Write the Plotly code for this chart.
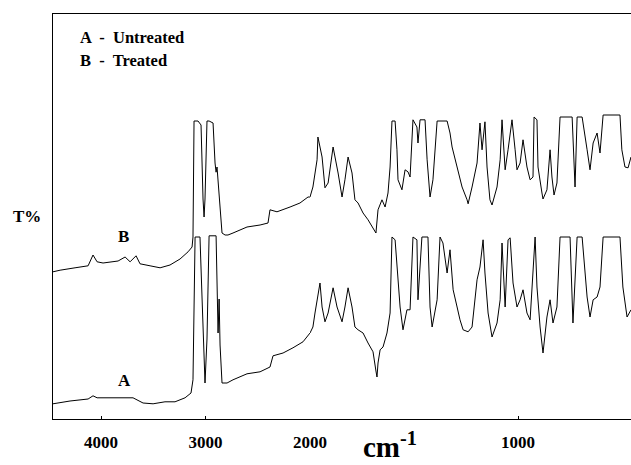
import numpy as np
import plotly.graph_objects as go

# ---- data: wavenumber (cm-1) and transmittance (arbitrary T%) ----
wn_B = [4460, 4392, 4249, 4124, 4077, 4038, 3981, 3914, 3837, 3770, 3722, 3665, 3627, 3531,
        3435, 3340, 3244, 3167, 3148, 3129, 3120, 3110, 3072, 3053, 3043, 3024, 3014, 3005,
        2986, 2966, 2928, 2909, 2899, 2890, 2842, 2813, 2785, 2737, 2603, 2478, 2402, 2383,
        2316, 2191, 2096, 2019, 2000,
        1986, 1966, 1962, 1942, 1928, 1913, 1889, 1865, 1846, 1832, 1817, 1798, 1784, 1769,
        1745, 1721, 1702, 1683, 1673, 1654, 1639, 1625, 1615, 1606, 1591, 1582, 1577, 1558,
        1543, 1529, 1519, 1505, 1486, 1481, 1471, 1447, 1437, 1423, 1409, 1389, 1341, 1327,
        1317, 1293, 1269, 1245, 1240, 1221, 1197, 1183, 1173, 1159, 1149, 1135, 1125, 1101,
        1086, 1077, 1062, 1048, 1029, 1014, 1005, 990, 976, 957, 942, 928, 923, 909, 904,
        885, 880, 861, 846, 837, 827, 813, 798, 740, 726, 716, 692, 668, 654, 639, 620, 606,
        591, 510, 501, 486, 471, 457]
T_B = [36.8, 37.2, 37.8, 38.3, 41.0, 39.3, 39.0, 39.3, 39.5, 40.5, 39.3, 40.8, 38.8, 38.3,
       37.8, 38.5, 40.0, 41.8, 42.3, 43.0, 45.5, 74.5, 74.5, 74.0, 73.5, 55.0, 50.5, 55.0,
       74.5, 74.5, 74.0, 64.0, 61.7, 63.0, 46.5, 46.0, 46.0, 46.5, 48.0, 48.5, 49.0, 52.3,
       51.8, 53.0, 54.0, 55.5, 55.5,
       58.0, 64.8, 70.5, 65.5, 57.8, 59.0, 68.0, 61.5, 55.5, 59.8, 65.5, 61.5, 54.8, 54.0,
       51.5, 49.8, 48.0, 46.5, 52.3, 54.8, 53.0, 56.5, 63.0, 74.5, 74.5, 67.3, 59.8, 57.3,
       62.3, 61.8, 60.5, 74.8, 73.0, 69.0, 74.8, 74.8, 64.8, 55.5, 59.8, 74.5, 74.5, 71.5,
       68.0, 63.0, 58.0, 54.8, 53.8, 58.0, 64.0, 74.0, 67.3, 74.3, 63.0, 54.8, 53.5, 58.0,
       64.8, 74.8, 62.3, 67.3, 74.8, 67.3, 62.3, 64.0, 69.8, 63.0, 59.8, 60.5, 75.5, 74.8, 63.0,
       56.5, 55.0, 57.3, 67.3, 60.5, 56.0, 59.0, 75.5, 75.5, 58.0, 75.5, 75.5, 67.3, 62.3, 69.0, 71.5, 66.5,
       76.0, 76.0, 67.3, 63.0, 62.8, 65.5]

wn_A = [4460, 4297, 4124, 4077, 4038, 3914, 3770, 3694, 3598, 3502, 3388, 3292, 3196, 3139,
        3120, 3110, 3100, 3091, 3053, 3033, 3005, 2986, 2966, 2899, 2890, 2880, 2870, 2861,
        2842, 2794, 2737, 2603, 2478, 2383, 2354, 2258, 2163, 2067, 2000,
        1986, 1976, 1966, 1952, 1942, 1928, 1913, 1889, 1870, 1846, 1832, 1817, 1798, 1784,
        1769, 1745, 1721, 1697, 1683, 1678, 1673, 1663, 1649, 1630, 1615, 1606, 1591, 1582,
        1567, 1553, 1534, 1519, 1505, 1486, 1481, 1462, 1433, 1423, 1413, 1389, 1375, 1361,
        1341, 1327, 1312, 1293, 1279, 1264, 1240, 1221, 1207, 1197, 1183, 1168, 1159, 1144,
        1125, 1101, 1086, 1077, 1062, 1048, 1038, 1024, 1005, 990, 976, 957, 942, 928, 918,
        909, 894, 880, 861, 846, 832, 813, 798, 750, 736, 716, 692, 668, 654, 639, 620, 606,
        591, 510, 496, 476, 457]
T_A = [3.8, 4.5, 5.0, 5.8, 5.3, 5.3, 5.3, 5.3, 4.0, 3.8, 4.3, 4.3, 5.3, 6.5,
       9.8, 30.0, 45.5, 45.5, 45.5, 30.0, 9.0, 20.0, 45.8, 45.8, 35.0, 21.5, 30.0, 18.5,
       9.0, 9.0, 9.8, 11.3, 11.8, 13.0, 15.8, 16.5, 17.8, 19.3, 21.5,
       23.0, 26.5, 29.8, 34.0, 28.0, 24.3, 26.5, 32.8, 28.0, 24.3, 28.0, 32.8, 28.0, 23.0,
       22.3, 21.5, 19.0, 16.8, 12.0, 10.5, 14.0, 17.3, 18.0, 21.5, 26.5, 45.5, 44.8, 38.0,
       28.0, 22.3, 27.3, 27.3, 45.5, 44.8, 29.8, 45.5, 45.5, 28.0, 23.0, 29.8, 45.5, 44.0,
       36.5, 42.3, 32.3, 28.0, 24.8, 22.3, 21.8, 23.0, 29.8, 34.8, 38.0, 44.8, 36.5, 26.5,
       20.5, 24.0, 29.8, 44.0, 28.0, 44.8, 45.3, 34.0, 28.0, 29.8, 32.3, 26.5, 24.8, 36.5, 45.5,
       33.0, 23.0, 16.5, 25.5, 29.8, 24.0, 28.0, 45.5, 45.5, 24.0, 45.5, 45.5, 30.5, 25.5, 29.8, 30.5, 33.0,
       45.5, 45.5, 33.0, 25.5, 27.3]

tick_hi = [4000, 3000, 2000]
tick_lo = [1000]

FONT = "Liberation Serif"
split = (310 - 53) / 578.0

fig = go.Figure()
for wn, T in [(wn_A, T_A), (wn_B, T_B)]:
    wn = np.array(wn)
    T = np.array(T)
    hi = wn >= 2000
    lo = wn <= 2000
    fig.add_trace(go.Scatter(x=wn[hi], y=T[hi], mode="lines", xaxis="x", yaxis="y",
                             line=dict(color="black", width=1), showlegend=False))
    fig.add_trace(go.Scatter(x=wn[lo], y=T[lo], mode="lines", xaxis="x2", yaxis="y",
                             line=dict(color="black", width=1), showlegend=False))

axis_common = dict(showline=True, linecolor="black", linewidth=1, mirror=True,
                   showgrid=False, zeroline=False, ticks="inside", ticklen=3,
                   automargin=False, ticklabelstandoff=8,
                   tickcolor="black", tickfont=dict(family=FONT, size=17, color="black"))

fig.update_layout(
    width=631, height=465, autosize=False, showlegend=False,
    margin=dict(l=53, r=0, t=14, b=46, autoexpand=False),
    paper_bgcolor="white", plot_bgcolor="white",
    xaxis=dict(domain=[0, split], range=[4460, 2000], tickvals=tick_hi,
               ticktext=[f"<b>{v}</b>" for v in tick_hi], anchor="y", **axis_common),
    xaxis2=dict(domain=[split, 1], range=[2000, 457], tickvals=tick_lo,
                ticktext=[f"<b>{v}</b>" for v in tick_lo], anchor="y", **axis_common),
    yaxis=dict(range=[0, 101.25], showline=True, linecolor="black", linewidth=1,
               automargin=False,
               showticklabels=False, ticks="", showgrid=False, zeroline=False),
)

ann_font = dict(family=FONT, size=16.5, color="black")
fig.add_annotation(text="<b>A  -  Untreated</b>", xref="paper", yref="paper",
                   x=(78 - 53) / 578, y=(419 - 38) / 405, xanchor="left", yanchor="middle",
                   showarrow=False, font=ann_font)
fig.add_annotation(text="<b>B  -  Treated</b>", xref="paper", yref="paper",
                   x=(78 - 53) / 578, y=(419 - 60) / 405, xanchor="left", yanchor="middle",
                   showarrow=False, font=ann_font)
fig.add_annotation(text="<b>B</b>", xref="x", yref="y", x=3789, y=45.75,
                   showarrow=False, font=dict(family=FONT, size=17, color="black"))
fig.add_annotation(text="<b>A</b>", xref="x", yref="y", x=3780, y=9.75,
                   showarrow=False, font=dict(family=FONT, size=17, color="black"))
fig.add_annotation(text="<b>T%</b>", xref="paper", yref="paper",
                   x=(27 - 53) / 578, y=(419 - 216) / 405, xanchor="center", yanchor="middle",
                   showarrow=False, font=dict(family=FONT, size=17, color="black"))
fig.add_annotation(text="<b>cm<sup>-1</sup></b>", xref="paper", yref="paper",
                   x=(390 - 53) / 578, y=(419 - 465) / 405, xanchor="center", yanchor="bottom",
                   showarrow=False, font=dict(family=FONT, size=29, color="black"))

fig.write_html(
    "out.html",
    config={"responsive": False, "displayModeBar": False},
    post_script="document.body.style.margin='0px';document.body.style.overflow='hidden';",
)
